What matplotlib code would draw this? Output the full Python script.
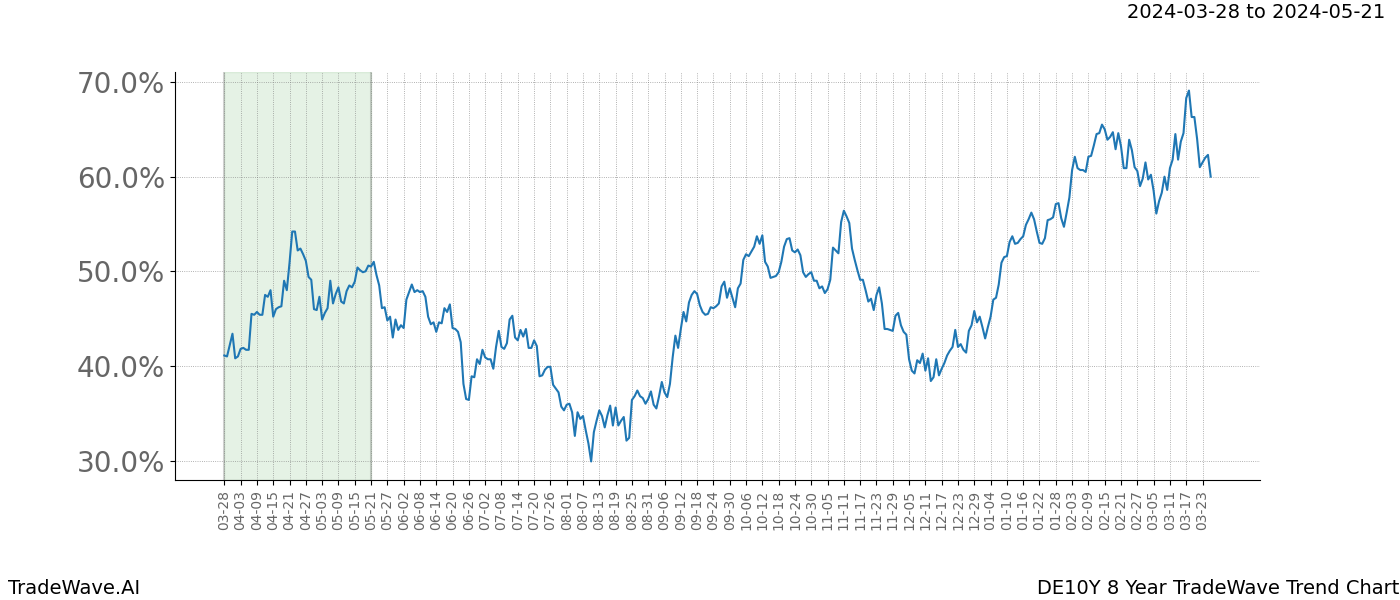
import matplotlib
matplotlib.use("Agg")
import matplotlib.pyplot as plt
import matplotlib.dates as mdates
from matplotlib.ticker import FuncFormatter
import pandas as pd

start_date = "2024-03-28"
highlight_start = "2024-03-28"
highlight_end = "2024-05-21"

vals_apr_may = [41.1, 41.0, 42.2, 43.4, 40.8, 41.0, 41.8, 41.9, 41.7, 41.7, 45.5, 45.4, 45.7, 45.4, 45.4,
                47.5, 47.3, 48.0, 45.2, 46.0, 46.2, 46.3, 49.0, 48.0, 50.9, 54.2, 54.2, 52.2, 52.4, 51.8,
                51.1, 49.4, 49.1, 46.0, 45.9, 47.3, 44.9, 45.6, 46.1, 49.0, 46.6, 47.6, 48.3, 46.8, 46.6,
                47.9, 48.5, 48.3, 48.9, 50.4, 50.1, 49.9]
vals_may_jul = [50.0, 50.6, 50.5, 51.0, 49.6, 48.5, 46.1, 46.2, 44.8, 45.2, 43.0, 44.9, 43.8, 44.3, 44.0,
                47.0, 47.8, 48.6, 47.8, 48.0, 47.8, 47.9, 47.3, 45.2, 44.4, 44.6, 43.6, 44.6, 44.5, 46.1,
                45.7, 46.5, 44.0, 43.9, 43.6, 42.5, 38.1, 36.5, 36.4, 38.9, 38.8, 40.7, 40.2, 41.7, 40.9,
                40.7, 40.7, 39.7, 42.0, 43.7, 42.0, 41.8]
vals_jul_aug = [42.4, 44.9, 45.3, 43.0, 42.7, 43.8, 43.1, 43.9, 41.9, 41.9, 42.7, 42.1, 38.9, 39.0, 39.6,
                39.9, 39.9, 38.0, 37.6, 37.2, 35.7, 35.3, 35.9, 36.0, 35.1, 32.6, 35.1, 34.4, 34.7, 33.2,
                31.8, 29.9, 33.0, 34.2, 35.3, 34.7, 33.5, 34.8, 35.8, 33.7, 35.6, 33.7, 34.2, 34.6, 32.1,
                32.4, 36.4, 36.8, 37.4, 36.8, 36.6]
vals_aug_oct = [36.0, 36.5, 37.3, 35.9, 35.5, 36.8, 38.3, 37.2, 36.7, 38.1, 40.9, 43.2, 41.9, 43.9, 45.7,
                44.7, 46.7, 47.5, 47.9, 47.6, 46.4, 45.7, 45.4, 45.5, 46.2, 46.1, 46.3, 46.6, 48.4, 48.9,
                47.2, 48.2, 47.2, 46.2, 48.2, 48.7, 51.2, 51.8, 51.6, 52.1, 52.6, 53.7, 52.9, 53.8, 51.0,
                50.5, 49.3, 49.4, 49.5, 49.9, 51.0, 52.6]
vals_oct_dec = [53.4, 53.5, 52.2, 52.0, 52.3, 51.7, 49.9, 49.4, 49.7, 49.9, 49.0, 49.0, 48.2, 48.4, 47.7,
                48.1, 49.1, 52.5, 52.2, 51.9, 55.2, 56.4, 55.8, 55.1, 52.4, 51.2, 50.1, 49.1, 49.1, 48.0,
                46.8, 47.1, 45.9, 47.5, 48.3, 46.6, 43.9, 43.9, 43.8, 43.7, 45.3, 45.6, 44.3, 43.6, 43.3,
                40.7, 39.5, 39.2, 40.6, 40.3, 41.3, 39.5]
vals_dec_feb = [40.8, 38.4, 38.8, 40.7, 39.0, 39.7, 40.3, 41.1, 41.6, 42.0, 43.8, 42.0, 42.3, 41.7, 41.4,
                43.7, 44.3, 45.8, 44.6, 45.2, 44.1, 42.9, 44.1, 45.2, 47.0, 47.2, 48.6, 50.9, 51.5, 51.6,
                53.1, 53.7, 52.9, 53.0, 53.4, 53.7, 54.9, 55.5, 56.2, 55.5, 54.2, 53.0, 52.9, 53.5, 55.4,
                55.5, 55.7, 57.1, 57.2, 55.6, 54.7, 56.2, 57.8, 60.7]
vals_feb_mar = [62.1, 60.9, 60.7, 60.7, 60.5, 62.1, 62.2, 63.3, 64.5, 64.6, 65.5, 65.0, 63.9, 64.2, 64.7,
                62.9, 64.6, 63.2, 60.9, 60.9, 63.9, 62.8, 61.0, 60.6, 59.0, 59.8, 61.5, 59.7, 60.2, 58.5,
                56.1, 57.4, 58.3, 60.0, 58.6, 60.9, 61.8, 64.5, 61.8, 63.7, 64.6, 68.3, 69.1, 66.3, 66.3,
                64.0, 61.0, 61.5, 62.0, 62.3, 60.0]

values = (vals_apr_may + vals_may_jul + vals_jul_aug + vals_aug_oct
          + vals_oct_dec + vals_dec_feb + vals_feb_mar)
dates = pd.date_range(start_date, periods=len(values), freq="D")
tick_dates = pd.date_range(start_date, "2025-03-23", freq="6D")

fig = plt.figure(figsize=(14, 6), dpi=100)
ax = fig.add_subplot(111)
fig.subplots_adjust(left=0.125, right=0.9, top=0.88, bottom=0.2)

ax.axvspan(pd.Timestamp(highlight_start), pd.Timestamp(highlight_end),
           color="green", alpha=0.1, zorder=0)
ax.axvline(pd.Timestamp(highlight_start), color="gray", alpha=0.35, linewidth=1.5, zorder=1)
ax.axvline(pd.Timestamp(highlight_end), color="gray", alpha=0.35, linewidth=1.5, zorder=1)

ax.plot(dates, values, color="#1f77b4", linewidth=1.5, zorder=3)

ax.set_xticks(tick_dates)
ax.xaxis.set_major_formatter(mdates.DateFormatter("%m-%d"))
ax.tick_params(axis="x", labelrotation=90, labelsize=10, labelcolor="#666666")
ax.set_yticks([30, 40, 50, 60, 70])
ax.yaxis.set_major_formatter(FuncFormatter(lambda v, p: f"{v:.1f}%"))
ax.tick_params(axis="y", labelsize=20, labelcolor="#666666")

ax.grid(True, color="gray", linestyle=":", linewidth=0.6, alpha=0.8)
ax.set_axisbelow(True)
for s in ["top", "right"]:
    ax.spines[s].set_visible(False)

fig.text(1385 / 1400, 1 - 12 / 600, f"{highlight_start} to {highlight_end}",
         ha="right", va="center", fontsize=14)
fig.text(8 / 1400, 12 / 600, "TradeWave.AI", ha="left", va="center", fontsize=14)
fig.text(1399 / 1400, 12 / 600, "DE10Y 8 Year TradeWave Trend Chart",
         ha="right", va="center", fontsize=14)

fig.savefig("out.png", dpi=100)
